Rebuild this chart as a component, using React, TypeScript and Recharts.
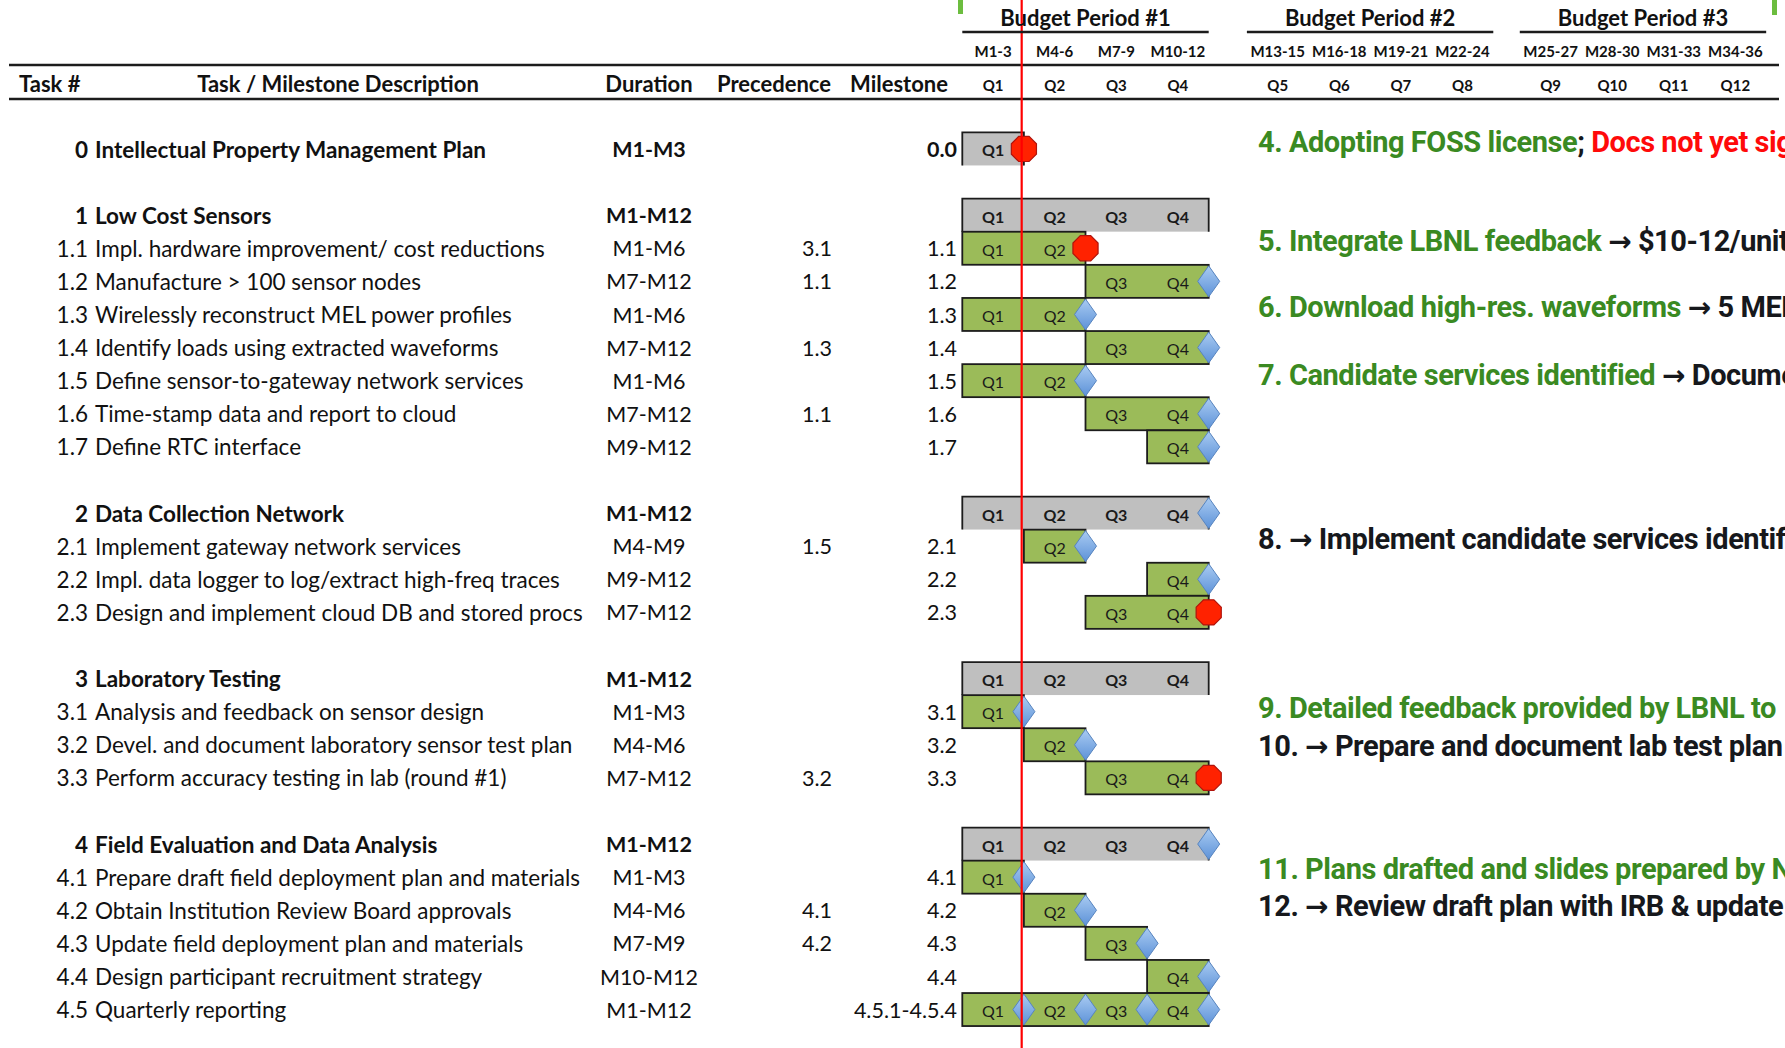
import { BarChart, Bar, XAxis, YAxis, ReferenceLine } from "recharts";

const W = 1785;
const H = 1048;

// ---- task table -------------------------------------------------------
const TASK_IDS = ["0", "1", "1.1", "1.2", "1.3", "1.4", "1.5", "1.6", "1.7", "2", "2.1", "2.2", "2.3", "3", "3.1", "3.2", "3.3", "4", "4.1", "4.2", "4.3", "4.4", "4.5"];
const TASK_NAMES = [
  "Intellectual Property Management Plan",
  "Low Cost Sensors",
  "Impl. hardware improvement/ cost reductions",
  "Manufacture > 100 sensor nodes",
  "Wirelessly reconstruct MEL power profiles",
  "Identify loads using extracted waveforms",
  "Define sensor-to-gateway network services",
  "Time-stamp data and report to cloud",
  "Define RTC interface",
  "Data Collection Network",
  "Implement gateway network services",
  "Impl. data logger to log/extract high-freq traces",
  "Design and implement cloud DB and stored procs",
  "Laboratory Testing",
  "Analysis and feedback on sensor design",
  "Devel. and document laboratory sensor test plan",
  "Perform accuracy testing in lab (round #1)",
  "Field Evaluation and Data Analysis",
  "Prepare draft field deployment plan and materials",
  "Obtain Institution Review Board approvals",
  "Update field deployment plan and materials",
  "Design participant recruitment strategy",
  "Quarterly reporting",
];
const DURATIONS = ["M1-M3", "M1-M12", "M1-M6", "M7-M12", "M1-M6", "M7-M12", "M1-M6", "M7-M12", "M9-M12", "M1-M12", "M4-M9", "M9-M12", "M7-M12", "M1-M12", "M1-M3", "M4-M6", "M7-M12", "M1-M12", "M1-M3", "M4-M6", "M7-M9", "M10-M12", "M1-M12"];
const PRECEDENCE = ["", "", "3.1", "1.1", "", "1.3", "", "1.1", "", "", "1.5", "", "", "", "", "", "3.2", "", "", "4.1", "4.2", "", ""];
const MILESTONES = ["0.0", "", "1.1", "1.2", "1.3", "1.4", "1.5", "1.6", "1.7", "", "2.1", "2.2", "2.3", "", "3.1", "3.2", "3.3", "", "4.1", "4.2", "4.3", "4.4", "4.5.1-4.5.4"];
// first / last quarter of each bar
const START_Q = [1, 1, 1, 3, 1, 3, 1, 3, 4, 1, 2, 4, 3, 1, 1, 2, 3, 1, 1, 2, 3, 4, 1];
const END_Q = [1, 4, 2, 4, 2, 4, 2, 4, 4, 4, 2, 4, 4, 4, 1, 2, 4, 4, 1, 2, 3, 4, 4];
// stop = red octagon, done = blue diamond at the end, each = diamond after every quarter
const MARKERS = ["stop", "", "stop", "done", "done", "done", "done", "done", "done", "done", "done", "done", "stop", "", "done", "done", "stop", "done", "done", "done", "done", "done", "each"];

// status notes on the right, keyed by task; "->" becomes a bold arrow
const NOTE_TASKS = ["0", "1.1", "1.3", "1.5", "2.1", "3.1", "3.2", "4.1", "4.2"];
const NOTES: [string, string][][] = [
  [["4. Adopting FOSS license", "done"], [";", "ink"], [" Docs not yet signed", "alert"]],
  [["5. Integrate LBNL feedback ", "done"], ["->", "ink"], [" $10-12/unit", "ink"]],
  [["6. Download high-res. waveforms ", "done"], ["->", "ink"], [" 5 MELs", "ink"]],
  [["7. Candidate services identified ", "done"], ["->", "ink"], [" Documented", "ink"]],
  [["8. ", "ink"], ["->", "ink"], [" Implement candidate services identified", "ink"]],
  [["9. Detailed feedback provided by LBNL to", "done"]],
  [["10. ", "ink"], ["->", "ink"], [" Prepare and document lab test plan", "ink"]],
  [["11. Plans drafted and slides prepared by N", "done"]],
  [["12. ", "ink"], ["->", "ink"], [" Review draft plan with IRB & update", "ink"]],
];
const NOTE_DY = [-7, -7, -8, -6, -7, -4, 1, -8, -4];

// ---- timeline header --------------------------------------------------
const PERIOD_LABELS = ["Budget Period #1", "Budget Period #2", "Budget Period #3"];
const MONTH_LABELS = ["M1-3", "M4-6", "M7-9", "M10-12", "M13-15", "M16-18", "M19-21", "M22-24", "M25-27", "M28-30", "M31-33", "M34-36"];
const QUARTER_LABELS = ["Q1", "Q2", "Q3", "Q4", "Q5", "Q6", "Q7", "Q8", "Q9", "Q10", "Q11", "Q12"];
const TODAY_Q = 0.964; // status date, in quarters from project start

// ---- layout -----------------------------------------------------------
const PLOT_LEFT = 962.3;
const PX_Q = 61.6;
const X_MAX = 13.1;
const RIGHT_M = W - PLOT_LEFT - X_MAX * PX_Q;
const PLOT_TOP = 132.45;
const SLOT = 33.1;
const PERIOD_STARTS = [0, 4.62, 9.05];

const GREEN = "#9bbb59";
const GRAY = "#bfbfbf";
const EDGE = "#1c1c1c";
const NOTE_COLORS: Record<string, string> = { done: "#3a8a22", ink: "#16181c", alert: "#ff0a0a" };
const TABLE_FONT = "Lato, 'Open Sans', sans-serif";
const NOTE_FONT = "Roboto, 'Liberation Sans', sans-serif";

type Row = {
  key: string;
  blank?: boolean;
  id?: string;
  name?: string;
  duration?: string;
  precedence?: string;
  milestone?: string;
  group?: boolean;
  start?: number;
  end?: number;
  marker?: string;
  span?: [number, number];
};

const rows: Row[] = [];
TASK_IDS.forEach((id, i) => {
  const group = !id.includes(".");
  if (group && i > 0) rows.push({ key: `gap-${id}`, blank: true });
  rows.push({
    key: id,
    id,
    name: TASK_NAMES[i],
    duration: DURATIONS[i],
    precedence: PRECEDENCE[i],
    milestone: MILESTONES[i],
    group,
    start: START_Q[i],
    end: END_Q[i],
    marker: MARKERS[i],
    span: [START_Q[i] - 1, END_Q[i]],
  });
});
const rowByKey: Record<string, Row> = {};
rows.forEach((r) => (rowByKey[r.key] = r));

const Q_TICKS = QUARTER_LABELS.map((_, i) => PERIOD_STARTS[Math.floor(i / 4)] + (i % 4) + 0.5);
const PLOT_BOTTOM = PLOT_TOP + rows.length * SLOT;

function Diamond({ cx, cy }: { cx: number; cy: number }) {
  const w = 11;
  const h = 15.5;
  return (
    <polygon
      points={`${cx},${cy - h} ${cx + w},${cy} ${cx},${cy + h} ${cx - w},${cy}`}
      fill="url(#diamondFill)"
      stroke="#5784bf"
      strokeWidth={1}
    />
  );
}

function Octagon({ cx, cy }: { cx: number; cy: number }) {
  const r = 13.6;
  const pts = Array.from({ length: 8 }, (_, k) => {
    const a = ((22.5 + k * 45) * Math.PI) / 180;
    return `${cx + r * Math.cos(a)},${cy + r * Math.sin(a)}`;
  }).join(" ");
  return <polygon points={pts} fill="#ff2200" stroke="#b0140c" strokeWidth={1.2} />;
}

function TaskBar(props: any) {
  const { x, y, width, height, payload } = props;
  if (!payload || payload.blank || !(width > 0)) return <g />;
  const n = payload.end - payload.start + 1;
  const qw = width / n;
  const cy = y + height / 2;
  const quarters = Array.from({ length: n }, (_, i) => payload.start + i);
  return (
    <g>
      {payload.group ? (
        <>
          <rect x={x} y={y} width={width} height={height} fill={GRAY} />
          <path
            d={`M${x},${y + height} V${y} H${x + width} V${y + height}`}
            fill="none"
            stroke={EDGE}
            strokeWidth={1.8}
          />
        </>
      ) : (
        <rect x={x} y={y} width={width} height={height} fill={GREEN} stroke={EDGE} strokeWidth={1.8} />
      )}
      {quarters.map((q, i) => (
        <text
          key={q}
          x={x + qw * (i + 0.5)}
          y={cy + 1}
          textAnchor="middle"
          dominantBaseline="central"
          fontFamily={TABLE_FONT}
          fontSize={16}
          fontWeight={payload.group ? 700 : 400}
          fill="#1a1a1a"
        >
          {`Q${q}`}
        </text>
      ))}
      {payload.marker === "done" && <Diamond cx={x + width} cy={cy} />}
      {payload.marker === "stop" && <Octagon cx={x + width} cy={cy} />}
      {payload.marker === "each" && quarters.map((q, i) => <Diamond key={q} cx={x + qw * (i + 1)} cy={cy} />)}
    </g>
  );
}

function RowTick(props: any) {
  const { y, payload } = props;
  const r = rowByKey[payload.value];
  if (!r || r.blank) return <g />;
  const weight = r.group ? 700 : 400;
  const base = { fontFamily: TABLE_FONT, fontSize: 22.5, fill: "#111", dominantBaseline: "central" as const };
  const num = { ...base, fontSize: 21.5 };
  const noteIdx = NOTE_TASKS.indexOf(r.key);
  return (
    <g>
      <text {...base} x={88} y={y} textAnchor="end" fontWeight={weight}>{r.id}</text>
      <text {...base} x={95} y={y} fontWeight={weight}>{r.name}</text>
      <text {...num} x={649} y={y} textAnchor="middle" fontWeight={weight}>{r.duration}</text>
      <text {...num} x={817} y={y} textAnchor="middle">{r.precedence}</text>
      <text {...num} x={957} y={y} textAnchor="end" fontWeight={r.key === "0" ? 700 : 400}>{r.milestone}</text>
      {noteIdx >= 0 && (
        <text
          x={1258}
          y={y + NOTE_DY[noteIdx]}
          fontFamily={NOTE_FONT}
          fontSize={29}
          fontWeight={700}
          letterSpacing={-0.45}
          dominantBaseline="central"
        >
          {NOTES[noteIdx].map(([t, tone], k) =>
            t === "->" ? (
              <tspan key={k} fill={NOTE_COLORS[tone]} fontFamily="'DejaVu Sans', sans-serif" fontWeight={700} fontSize={28}>
                {"\u2192"}
              </tspan>
            ) : (
              <tspan key={k} fill={NOTE_COLORS[tone]}>{t}</tspan>
            )
          )}
        </text>
      )}
    </g>
  );
}

function HeaderTick(props: any) {
  const { x, payload } = props;
  const i = Q_TICKS.indexOf(payload.value);
  if (i < 0) return <g />;
  const head = { fontFamily: TABLE_FONT, fontWeight: 700, fill: "#111", textAnchor: "middle" as const, dominantBaseline: "central" as const };
  const pStart = x - PX_Q / 2;
  return (
    <g>
      {i % 4 === 0 && (
        <>
          <text {...head} x={pStart + 2 * PX_Q} y={17} fontSize={22}>{PERIOD_LABELS[i / 4]}</text>
          <line x1={pStart} x2={pStart + 4 * PX_Q} y1={32} y2={32} stroke={EDGE} strokeWidth={2.4} />
        </>
      )}
      <text {...head} x={x} y={51} fontSize={15}>{MONTH_LABELS[i]}</text>
      <text {...head} x={x} y={85} fontSize={15}>{QUARTER_LABELS[i]}</text>
    </g>
  );
}

export default function App() {
  const colHead = { fontFamily: TABLE_FONT, fontWeight: 700, fontSize: 22, fill: "#111", y: 83, dominantBaseline: "central" as const };
  return (
    <div style={{ position: "absolute", left: 0, top: 0, width: W, height: H, background: "#fff", overflow: "hidden" }}>
      <svg width={W} height={H} style={{ position: "absolute", left: 0, top: 0 }}>
        <defs>
          <linearGradient id="diamondFill" x1="0" y1="0" x2="0" y2="1">
            <stop offset="0%" stopColor="#a9cbf2" />
            <stop offset="100%" stopColor="#5d92d8" />
          </linearGradient>
        </defs>
        <rect x={958} y={0} width={5} height={14} fill="#6cbd3f" />
        <rect x={1772} y={0} width={5} height={15} fill="#6cbd3f" />
        <line x1={9} x2={1779} y1={65} y2={65} stroke={EDGE} strokeWidth={2.6} />
        <line x1={9} x2={1779} y1={99} y2={99} stroke={EDGE} strokeWidth={2.6} />
        <text {...colHead} x={19}>Task #</text>
        <text {...colHead} x={338} textAnchor="middle">Task / Milestone Description</text>
        <text {...colHead} x={649} textAnchor="middle">Duration</text>
        <text {...colHead} x={774} textAnchor="middle">Precedence</text>
        <text {...colHead} x={899} textAnchor="middle">Milestone</text>
      </svg>
      <div style={{ position: "absolute", left: 0, top: 0 }}>
        <BarChart
          width={W}
          height={H}
          data={rows}
          layout="vertical"
          margin={{ top: 0, right: RIGHT_M, bottom: H - PLOT_BOTTOM, left: 0 }}
          barCategoryGap={0}
          barGap={0}
        >
          <XAxis
            type="number"
            orientation="top"
            domain={[0, X_MAX]}
            ticks={Q_TICKS}
            interval={0}
            height={PLOT_TOP}
            axisLine={false}
            tickLine={false}
            tick={HeaderTick}
          />
          <YAxis
            type="category"
            dataKey="key"
            width={PLOT_LEFT}
            interval={0}
            axisLine={false}
            tickLine={false}
            tick={RowTick}
          />
          <Bar dataKey="span" shape={TaskBar} isAnimationActive={false} />
          <ReferenceLine
            x={TODAY_Q}
            shape={(p: any) => <line x1={p.x1} x2={p.x2} y1={0} y2={H} stroke="#ff0000" strokeWidth={2.2} />}
          />
        </BarChart>
      </div>
    </div>
  );
}
